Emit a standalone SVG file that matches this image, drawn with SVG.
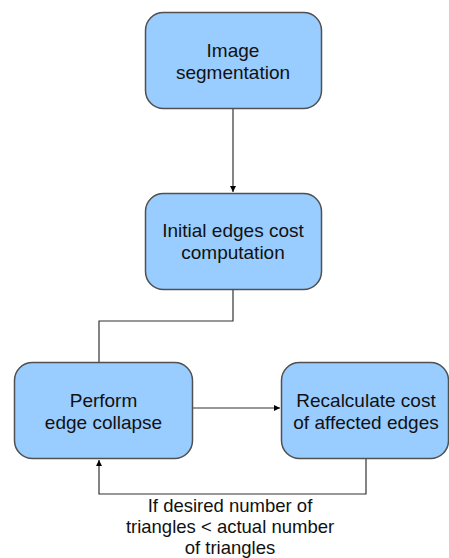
<svg xmlns="http://www.w3.org/2000/svg" width="449" height="558" viewBox="0 0 449 558">
<style>
.box{fill:#99ccff;stroke:#505050;stroke-width:1.5}
.t{font-family:"Liberation Sans",Arial,sans-serif;font-size:19px;fill:#111;text-anchor:middle}
.l{font-size:18.5px}
.c{fill:none;stroke:#333;stroke-width:1.2}
</style>
<defs>
<marker id="ah" viewBox="0 0 10 10" refX="10" refY="5" markerWidth="6" markerHeight="6" orient="auto" markerUnits="userSpaceOnUse">
<path d="M0,0 L10,5 L0,10 z" fill="#000"/>
</marker>
</defs>
<rect width="449" height="558" fill="#fff"/>
<g id="connectors">
<path class="c" d="M233,109 V192" marker-end="url(#ah)"/>
<path class="c" d="M233,290 V321 H99 V362"/>
<path class="c" d="M193,408 H280" marker-end="url(#ah)"/>
<path class="c" d="M366,459 V494 H99 V460" marker-end="url(#ah)"/>
</g>
<g id="n1">
<rect class="box" x="145.5" y="12.5" width="176" height="96" rx="18"/>
<text class="t" x="233" y="57">Image</text>
<text class="t" x="233" y="79">segmentation</text>
</g>
<g id="n2">
<rect class="box" x="145.5" y="193.5" width="176" height="96" rx="18"/>
<text class="t" x="233" y="237">Initial edges cost</text>
<text class="t" x="233" y="259">computation</text>
</g>
<g id="n3">
<rect class="box" x="14.5" y="362.5" width="178" height="96" rx="18"/>
<text class="t" x="103.5" y="407">Perform</text>
<text class="t" x="103.5" y="429">edge collapse</text>
</g>
<g id="n4">
<rect class="box" x="281.5" y="362.5" width="167" height="96" rx="18"/>
<text class="t" x="366" y="407">Recalculate cost</text>
<text class="t" x="366" y="429">of affected edges</text>
</g>
<g id="label">
<text class="t l" x="230" y="512">If desired number of</text>
<text class="t l" x="230" y="533">triangles &lt; actual number</text>
<text class="t l" x="230" y="554">of triangles</text>
</g>
</svg>
